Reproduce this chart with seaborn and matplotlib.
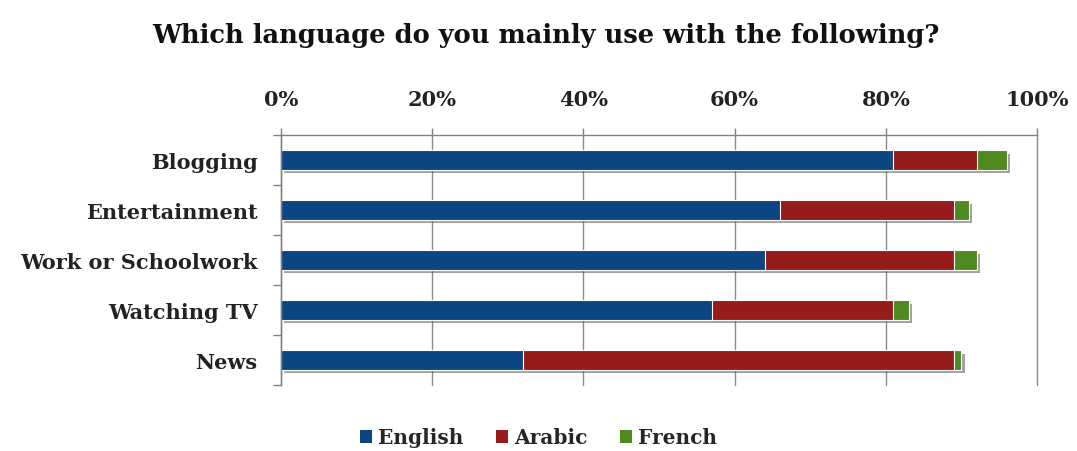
import matplotlib
matplotlib.use("Agg")
import matplotlib.pyplot as plt
import matplotlib.patheffects as pe
from matplotlib.ticker import FixedLocator
from matplotlib.patches import Patch
import pandas as pd
import seaborn as sns

categories = ["Blogging", "Entertainment", "Work or Schoolwork", "Watching TV", "News"]
english = [81, 66, 64, 57, 32]
arabic = [11, 23, 25, 24, 57]
french = [4, 2, 3, 2, 1]
series_names = ["English", "Arabic", "French"]
x_ticks = [0, 20, 40, 60, 80, 100]
x_tick_labels = ["0%", "20%", "40%", "60%", "80%", "100%"]

colors = {"English": "#0b4682", "Arabic": "#961c1b", "French": "#4e8a1f"}

sns.set_theme(style="white")
plt.rcParams["font.family"] = ["DejaVu Serif"]
plt.rcParams["font.weight"] = "bold"

df = pd.DataFrame({"category": categories, "English": english,
                   "Arabic": arabic, "French": french})
df["cum_arabic"] = df["English"] + df["Arabic"]
df["cum_french"] = df["cum_arabic"] + df["French"]

fig = plt.figure(figsize=(10.77, 4.52), dpi=100)
ax = fig.add_axes([0.2609, 0.146, 0.702, 0.553])

bar_h = 0.39
edge = dict(edgecolor="white", linewidth=0.8)

# stacked bars: draw cumulative totals back-to-front
sns.barplot(data=df, y="category", x="cum_french", order=categories, orient="h",
            color=colors["French"], width=bar_h, saturation=1, ax=ax, **edge)
n_back = len(ax.patches)
for p in ax.patches[:n_back]:
    p.set_path_effects([pe.SimplePatchShadow(offset=(2.5, -2.5), shadow_rgbFace="#555555",
                                             alpha=0.55), pe.Normal()])
sns.barplot(data=df, y="category", x="cum_arabic", order=categories, orient="h",
            color=colors["Arabic"], width=bar_h, saturation=1, ax=ax, **edge)
sns.barplot(data=df, y="category", x="English", order=categories, orient="h",
            color=colors["English"], width=bar_h, saturation=1, ax=ax, **edge)

ax.set_xlim(0, 100)
ax.set_ylim(len(categories) - 0.5, -0.5)
ax.set_xlabel("")
ax.set_ylabel("")

ax.xaxis.tick_top()
ax.set_xticks(x_ticks)
ax.set_xticklabels(x_tick_labels)
ax.tick_params(axis="x", which="major", direction="out", length=5, width=1,
               color="#808080", pad=14, labelsize=15, labelcolor="#222222")
ax.tick_params(axis="y", which="major", length=0, pad=17, labelsize=15,
               labelcolor="#222222")
ax.yaxis.set_minor_locator(FixedLocator([i - 0.5 for i in range(len(categories) + 1)]))
ax.tick_params(axis="y", which="minor", direction="out", length=6, width=1,
               color="#808080", left=True)

ax.grid(axis="x", color="#8a8a8a", linewidth=1)
for gl in ax.get_xgridlines():
    gl.set_clip_on(False)
ax.set_axisbelow(True)
for side in ["right", "bottom"]:
    ax.spines[side].set_visible(False)
for side in ["top", "left"]:
    ax.spines[side].set_color("#808080")
    ax.spines[side].set_linewidth(1)

handles = [Patch(facecolor=colors[s], edgecolor="none", label=s) for s in series_names]
fig.legend(handles=handles, loc="center", bbox_to_anchor=(0.5, 0.03), ncol=3,
           frameon=False, fontsize=14.5, handlelength=0.6, handleheight=0.6,
           handletextpad=0.3, columnspacing=1.6)

fig.suptitle("Which language do you mainly use with the following?", x=0.5065, y=0.922,
             fontsize=18.5, fontweight="bold", color="#111111", va="center")

fig.savefig("out.png", dpi=100, facecolor="white")
